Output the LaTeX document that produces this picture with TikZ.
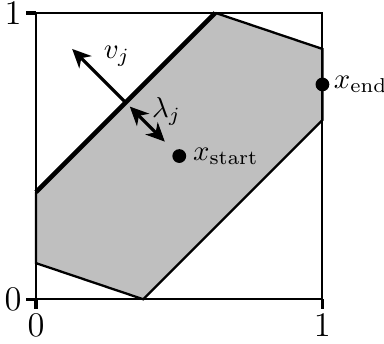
\documentclass[tikz,border=0pt]{standalone}
\usepackage{amsmath,amssymb}
\usepackage{tikz}
\usetikzlibrary{positioning,arrows.meta,calc}

\begin{document}
\begin{tikzpicture}[x=3.5cm,y=3.5cm,
  boxline/.style={line width=0.7pt},
  rim/.style={line width=0.8pt},
  facet/.style={line width=1.6pt},
  tickmark/.style={line width=1.2pt},
  ticklabel/.style={font=\large,inner sep=1pt},
  vecarrow/.style={line width=1.1pt,-{Stealth[length=6.5pt,width=6pt,inset=2pt]}},
  dblarrow/.style={line width=1.1pt,{Stealth[length=6.5pt,width=6pt,inset=2pt]}-{Stealth[length=6.5pt,width=6pt,inset=2pt]}},
  dot/.style={circle,fill=black,inner sep=0pt,minimum size=4.8pt}]
\useasboundingbox (-0.126,-0.155) rectangle (1.215,1.045);
% --- feasible region ---
\coordinate (p1) at (0,0.374);
\coordinate (p2) at (0.626,1);
\coordinate (p3) at (1,0.874);
\coordinate (p4) at (1,0.626);
\coordinate (p5) at (0.374,0);
\coordinate (p6) at (0,0.126);
\fill[gray!50] (p1) -- (p2) -- (p3) -- (p4) -- (p5) -- (p6) -- cycle;
\draw[rim] (p2) -- (p3) -- (p4) -- (p5) -- (p6) -- (p1);
% --- unit box ---
\coordinate (o) at (0,0);
\coordinate (e1) at (1,0);
\coordinate (e2) at (0,1);
\coordinate (tr) at (1,1);
\draw[boxline] (o) rectangle (tr);
\draw[facet] (p1) -- (p2);
% ticks and labels
\draw[tickmark] (e2) -- ++(-0.035,0) node[left,ticklabel] (ylabone) {1};
\draw[tickmark] (o) -- ++(-0.035,0) node[left,ticklabel] (ylabzero) {0};
\draw[tickmark] (o) -- ++(0,-0.035) node[below,ticklabel] (xlabzero) {0};
\draw[tickmark] (e1) -- ++(0,-0.035) node[below,ticklabel] (xlabone) {1};
% --- points ---
\node[dot] (xs) at (0.5,0.5) {};
\node[dot] (xe) at (1,0.75) {};
\node[right=0pt of xs,inner sep=2pt] (xslbl) {$x_{\mathrm{start}}$};
\node[right=0pt of xe,inner sep=1.2pt] (xelbl) {$x_{\mathrm{end}}$};
% foot of x_start on the thick facet, normal v_j
\coordinate (foot) at (0.313,0.687);
\coordinate (vtip) at (0.126,0.874);
\draw[vecarrow] (foot) -- (vtip);
\draw[dblarrow,shorten <=2pt,shorten >=4.5pt] (foot) -- (xs);
\node (vlbl) at (0.282,0.848) {$v_j$};
\node (lamlbl) at (0.456,0.656) {$\lambda_j$};
\end{tikzpicture}
\end{document}
